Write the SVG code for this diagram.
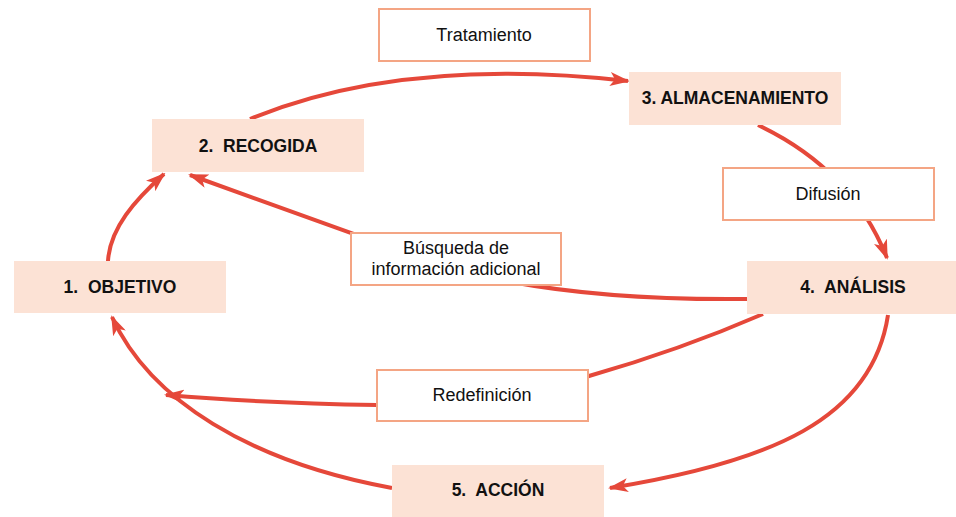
<svg xmlns="http://www.w3.org/2000/svg" width="956" height="517" viewBox="0 0 956 517">
<defs>
<marker id="ah" viewBox="0 0 20 14" refX="18" refY="7" markerWidth="20" markerHeight="14" markerUnits="userSpaceOnUse" orient="auto">
<path d="M0,0 L20,7 L0,14 L5,7 z" fill="#e5483a"/>
</marker>
<style>
.c{fill:none;stroke:#e5483a;stroke-width:4;marker-end:url(#ah)}
.n{fill:#fce2d5}
.l{fill:#fff;stroke:#f4a584;stroke-width:2}
.nt{font-family:"Liberation Sans",Arial,sans-serif;font-weight:bold;font-size:17.5px;fill:#111;text-anchor:middle}
.lt{font-family:"Liberation Sans",Arial,sans-serif;font-size:18px;fill:#111;text-anchor:middle}
</style>
</defs>
<rect width="956" height="517" fill="#fff"/>
<g id="connectors">
<path class="c" d="M250,119 C 340,82 460,62 628,81"/>
<path class="c" d="M758,125 C 815,152 862,195 887,258"/>
<path class="c" d="M747,299 Q 560,301 440,265 L 190,175"/>
<path class="c" d="M763,314 Q 680,350 589,376 L 560,385 Q 480,407 377,405 Q 260,403 166,395"/>
<path class="c" d="M888,315 C 872,420 770,462 610,488"/>
<path class="c" d="M392,488 C 250,462 150,400 112,317"/>
<path class="c" d="M108,261 C 110,228 135,200 164,174"/>
</g>
<g id="lbl-tratamiento"><rect class="l" x="379" y="9" width="211" height="52"/><text class="lt" x="484" y="41">Tratamiento</text></g>
<g id="lbl-difusion"><rect class="l" x="723" y="168" width="211" height="52"/><text class="lt" x="828" y="200">Difusión</text></g>
<g id="lbl-busqueda"><rect class="l" x="351" y="233" width="210" height="52"/><text class="lt" x="456" y="254">Búsqueda de</text><text class="lt" x="456" y="275">información adicional</text></g>
<g id="lbl-redefinicion"><rect class="l" x="377" y="370" width="211" height="51"/><text class="lt" x="482" y="401">Redefinición</text></g>
<g id="node1"><rect class="n" x="14" y="261" width="212" height="52"/><text class="nt" x="120" y="293" xml:space="preserve">1.  OBJETIVO</text></g>
<g id="node2"><rect class="n" x="152" y="119" width="212" height="53"/><text class="nt" x="258" y="152" xml:space="preserve">2.  RECOGIDA</text></g>
<g id="node3"><rect class="n" x="629" y="72" width="212" height="53"/><text class="nt" x="735" y="104">3. ALMACENAMIENTO</text></g>
<g id="node4"><rect class="n" x="747" y="261" width="212" height="53"/><text class="nt" x="853" y="293" xml:space="preserve">4.  ANÁLISIS</text></g>
<g id="node5"><rect class="n" x="392" y="465" width="212" height="52"/><text class="nt" x="498" y="496" xml:space="preserve">5.  ACCIÓN</text></g>
</svg>
